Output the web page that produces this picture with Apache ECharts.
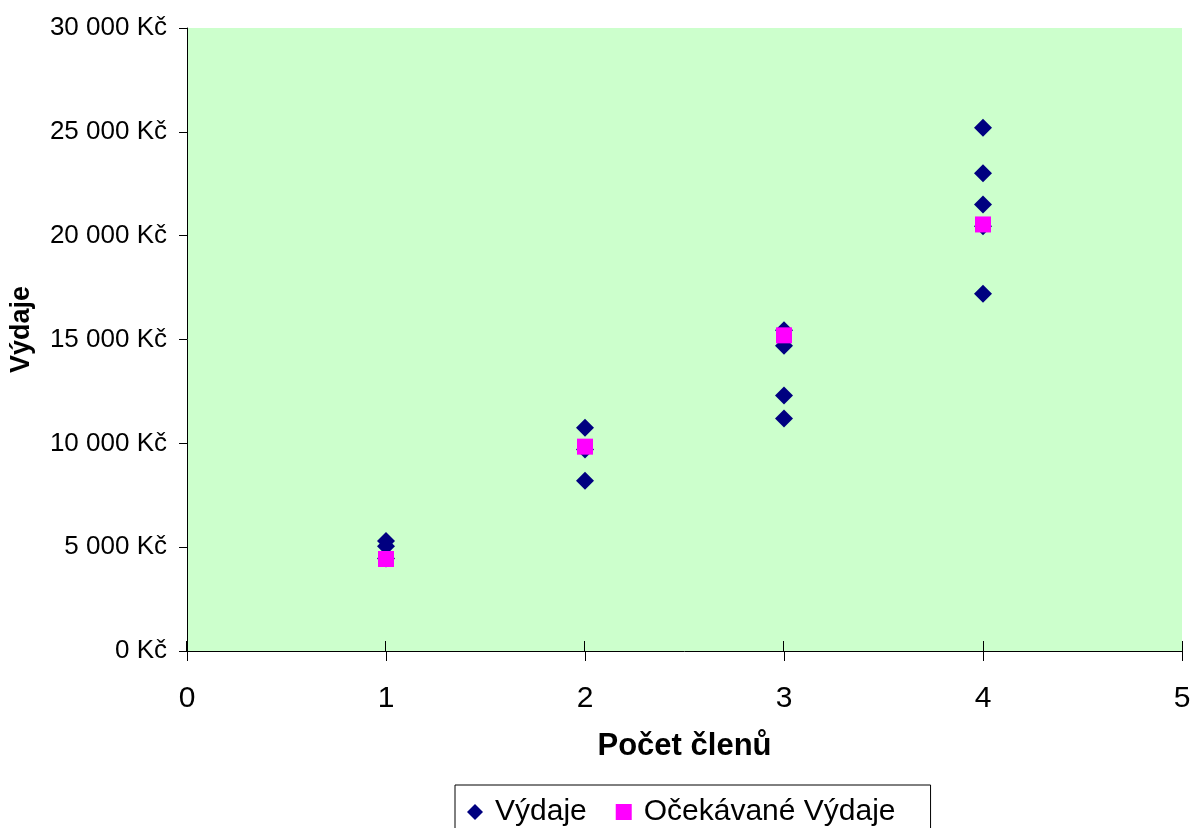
<!DOCTYPE html>
<html>
<head>
<meta charset="utf-8">
<script src="https://cdn.jsdelivr.net/npm/echarts@6/dist/echarts.min.js"></script>
<style>
  html, body { margin: 0; padding: 0; background: #fff; }
  #chart { width: 1201px; height: 828px; }
</style>
</head>
<body>
<div id="chart"></div>
<script>
  // hodnoty
  var pocetClenu = [1, 1, 1, 2, 2, 2, 3, 3, 3, 3, 4, 4, 4, 4, 4];
  var vydaje = [5300, 5050, 4450, 10750, 9700, 8200, 15450, 14700, 12300, 11200, 25200, 23000, 21500, 20450, 17200];
  var ocekavaneX = [1, 2, 3, 4];
  var ocekavaneVydaje = [4430, 9840, 15200, 20540];

  var font = '"Liberation Sans", Arial, sans-serif';

  function kc(v) {
    return String(v).replace(/\B(?=(\d{3})+(?!\d))/g, ' ') + ' Kč';
  }

  var chart = echarts.init(document.getElementById('chart'));
  chart.setOption({
    animation: false,
    textStyle: { fontFamily: font, color: '#000' },
    grid: [{
      left: 186, right: 19, top: 28, bottom: 177,
      show: true, backgroundColor: '#CCFFCC', borderWidth: 0
    }, {
      // jen kvůli vnitřní části křížových značek na ose x
      left: 186, right: 19, top: 28, bottom: 177
    }],
    legend: {
      left: 455, top: 785,
      padding: [12, 35, 24, 12],
      borderColor: '#000', borderWidth: 1,
      itemWidth: 16, itemHeight: 16, itemGap: 29,
      textStyle: { fontSize: 30, fontFamily: font, color: '#000', padding: [0, 0, 0, 7] },
      data: [
        { name: 'Výdaje', icon: 'diamond' },
        { name: 'Očekávané Výdaje', icon: 'rect' }
      ]
    },
    xAxis: [{
      type: 'value', min: 0, max: 5, interval: 1,
      name: 'Počet členů', nameLocation: 'middle', nameGap: 80,
      nameTextStyle: { fontSize: 31, fontWeight: 'bold', fontFamily: font, color: '#000' },
      axisLine: { onZero: false, lineStyle: { color: '#000', width: 1 } },
      axisTick: { length: 10, lineStyle: { color: '#000' } },
      axisLabel: { fontSize: 30, margin: 33, color: '#000', fontFamily: font },
      splitLine: { show: false }
    }, {
      gridIndex: 1,
      type: 'value', min: 0, max: 5, interval: 1, position: 'bottom',
      axisLine: { show: false },
      axisTick: { inside: true, length: 10, lineStyle: { color: '#000' } },
      axisLabel: { show: false },
      splitLine: { show: false }
    }],
    yAxis: [{
      type: 'value', min: 0, max: 30000, interval: 5000,
      name: 'Výdaje', nameLocation: 'middle', nameGap: 152,
      nameTextStyle: { fontSize: 27, fontWeight: 'bold', fontFamily: font, color: '#000', padding: [0, 0, 0, 20] },
      axisLine: { show: true, lineStyle: { color: '#000', width: 1 } },
      axisTick: { show: true, length: 8, lineStyle: { color: '#000' } },
      axisLabel: { fontSize: 26, margin: 20, color: '#000', fontFamily: font, formatter: kc },
      splitLine: { show: false }
    }, {
      gridIndex: 1, show: false, type: 'value', min: 0, max: 30000
    }],
    series: [{
      name: 'Výdaje',
      type: 'scatter',
      symbol: 'diamond',
      symbolSize: [18, 18],
      itemStyle: { color: '#000080', opacity: 1 },
      data: pocetClenu.map(function (x, i) { return [x, vydaje[i]]; })
    }, {
      name: 'Očekávané Výdaje',
      type: 'scatter',
      symbol: 'rect',
      symbolSize: [16, 16],
      itemStyle: { color: '#FF00FF', opacity: 1 },
      data: ocekavaneX.map(function (x, i) { return [x, ocekavaneVydaje[i]]; })
    }]
  });
</script>
</body>
</html>
